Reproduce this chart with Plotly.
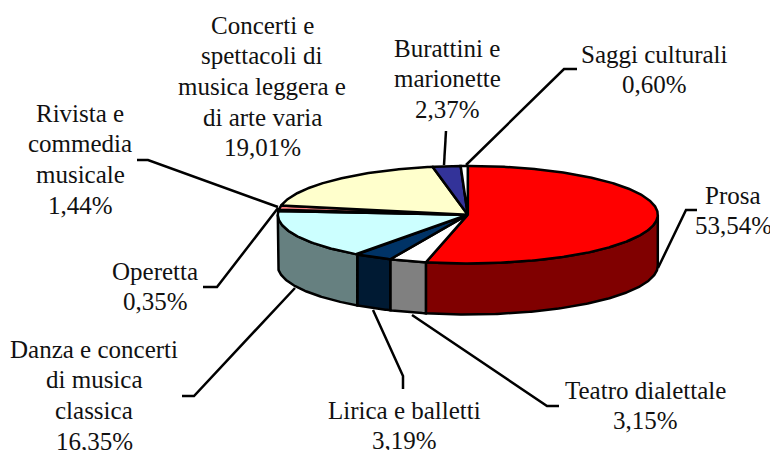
import numpy as np
import plotly.graph_objects as go

# Data
categories = ["Prosa", "Teatro dialettale", "Lirica e balletti",
              "Danza e concerti di musica classica", "Operetta",
              "Rivista e commedia musicale",
              "Concerti e spettacoli di musica leggera e di arte varia",
              "Burattini e marionette", "Saggi culturali"]
shares = [53.54, 3.15, 3.19, 16.35, 0.35, 1.44, 19.01, 2.37, 0.60]
share_labels = ["53,54%", "3,15%", "3,19%", "16,35%", "0,35%", "1,44%", "19,01%", "2,37%", "0,60%"]
wrapped_names = [["Prosa"], ["Teatro dialettale"], ["Lirica e balletti"],
                 ["Danza e concerti", "di musica", "classica"], ["Operetta"],
                 ["Rivista e", "commedia", "musicale"],
                 ["Concerti e", "spettacoli di", "musica leggera e", "di arte varia"],
                 ["Burattini e", "marionette"], ["Saggi culturali"]]

# Styles
top_colors = ["#FF0000", "#FFFFFF", "#003366", "#CCFFFF", "#660066", "#FF8080", "#FFFFCC", "#333399", "#FFFFFF"]
side_colors = ["#800000", "#808080", "#001A33", "#668080", "#330033", "#804040", "#808066", "#1A1A4D", "#808080"]

# Geometry of the tilted pie, in page pixels
CX, CY, RX, RY, DEPTH = 467.8, 214.7, 190.0, 48.8, 51.0
LW = 2.5
LINE_PITCH = 30.7

# Centre x and the y of the first line of each label
label_pos = [(733, 195), (645, 390), (404, 410), (94, 349), (155, 271),
             (80, 113), (262, 25), (447, 48), (654, 54)]
leaders = [[(658, 268), (686, 210), (697, 210)],
           [(412, 315), (547, 406), (559, 406)],
           [(373, 310), (403, 376), (403, 389)],
           [(295, 288), (194, 396), (182, 396)],
           [(278, 208), (217, 287), (203, 287)],
           [(278, 207), (148, 160), (137, 160)],
           [],
           [(444, 165), (446, 131)],
           [(466, 165), (564, 69), (577, 69)]]


def arc(a0, a1, dy=0.0):
    n = max(3, int(abs(a1 - a0) * 2))
    t = np.radians(np.linspace(a0, a1, n))
    return CX + RX * np.sin(t), CY + dy - RY * np.cos(t)


fig = go.Figure()
edges = np.concatenate([[0], np.cumsum(shares)]) / sum(shares) * 360.0


def add_poly(x, y, color):
    fig.add_trace(go.Scatter(x=x, y=y, mode="lines", fill="toself", fillcolor=color,
                             line=dict(color="black", width=LW), hoverinfo="skip",
                             showlegend=False))


# Outer wall: only the front half of the rim is seen
for i in range(len(shares)):
    a0, a1 = max(edges[i], 90.0), min(edges[i + 1], 270.0)
    if a1 <= a0:
        continue
    xt, yt = arc(a0, a1)
    xb, yb = arc(a1, a0, DEPTH)
    add_poly(np.r_[xt, xb, xt[0]], np.r_[yt, yb, yt[0]], side_colors[i])

# Top face
for i in range(len(shares)):
    xt, yt = arc(edges[i], edges[i + 1])
    add_poly(np.r_[CX, xt, CX], np.r_[CY, yt, CY], top_colors[i])

shapes = []
for pts in leaders:
    if pts:
        path = "M " + " L ".join(f"{x},{y}" for x, y in pts)
        shapes.append(dict(type="path", path=path, xref="x", yref="y", layer="below",
                           line=dict(color="black", width=LW)))

annotations = []
for names, s, (x, y) in zip(wrapped_names, share_labels, label_pos):
    for k, line in enumerate(names + [s]):
        annotations.append(dict(x=x, y=y + k * LINE_PITCH, xref="x", yref="y", text=line,
                                showarrow=False, xanchor="center", yanchor="middle",
                                align="center"))

fig.update_layout(
    width=770, height=450, margin=dict(l=0, r=0, t=0, b=0),
    paper_bgcolor="white", plot_bgcolor="white",
    font=dict(family="Liberation Serif", size=25, color="#111111"),
    xaxis=dict(range=[0, 770], visible=False, fixedrange=True),
    yaxis=dict(range=[450, 0], visible=False, fixedrange=True),
    shapes=shapes, annotations=annotations, showlegend=False,
)
fig.write_html("out.html", config=dict(displayModeBar=False),
               post_script="document.body.style.margin='0';document.body.style.overflow='hidden';")
